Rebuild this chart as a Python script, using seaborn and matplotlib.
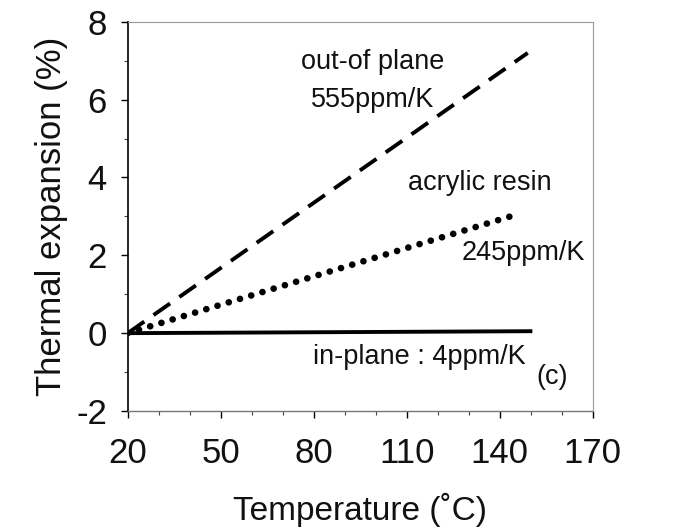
"""
Thermal expansion vs temperature, three directions/materials
"""

import matplotlib.pyplot as plt
from matplotlib.ticker import MultipleLocator
import seaborn as sns
import pandas as pd

# data (straight lines, endpoints)
out_of_plane_temp = [20, 149]
out_of_plane_exp = [0.0, 7.2]
acrylic_temp = [20, 145.5]
acrylic_exp = [0.0, 3.05]
in_plane_temp = [20, 150.5]
in_plane_exp = [0.0, 0.05]

x_ticks = [20, 50, 80, 110, 140, 170]
y_ticks = [-2, 0, 2, 4, 6, 8]

sns.set_style("ticks")
plt.rcParams['font.family'] = ['Liberation Sans', 'DejaVu Sans']
plt.rcParams['axes.unicode_minus'] = False

fig = plt.figure(figsize=(6.83, 5.31), dpi=100)
ax = fig.add_axes([0.187, 0.226, 0.681, 0.733])

df_out = pd.DataFrame({'T': out_of_plane_temp, 'E': out_of_plane_exp})
df_acr = pd.DataFrame({'T': acrylic_temp, 'E': acrylic_exp})
df_in = pd.DataFrame({'T': in_plane_temp, 'E': in_plane_exp})

sns.lineplot(data=df_in, x='T', y='E', ax=ax, color='black', linewidth=2.8,
             solid_capstyle='butt')
sns.lineplot(data=df_out, x='T', y='E', ax=ax, color='black', linewidth=2.8,
             dashes=False, linestyle=(0, (5.2, 2.9)))
sns.lineplot(data=df_acr, x='T', y='E', ax=ax, color='black', linewidth=4.8,
             linestyle=(0, (0.01, 1.75)), dash_capstyle='round')

ax.set_xlim(20, 170)
ax.set_ylim(-2, 8)
ax.set_xticks(x_ticks)
ax.set_yticks(y_ticks)
ax.xaxis.set_minor_locator(MultipleLocator(10))
ax.yaxis.set_minor_locator(MultipleLocator(1))
ax.tick_params(axis='both', which='major', labelsize=25, length=5, width=1,
               color='black', labelcolor='#111111')
ax.tick_params(axis='x', which='major', pad=14)
ax.tick_params(axis='y', which='major', pad=10)
ax.tick_params(axis='both', which='minor', length=3, width=0.8, color='#444444')

for side in ['top', 'right']:
    ax.spines[side].set_visible(True)
    ax.spines[side].set_color('#999999')
    ax.spines[side].set_linewidth(0.8)
ax.spines['left'].set_color('black')
ax.spines['left'].set_linewidth(1.2)
ax.spines['bottom'].set_color('#777777')
ax.spines['bottom'].set_linewidth(1.0)
ax.spines['bottom'].set_linestyle((0, (1.5, 1)))

ax.set_xlabel('Temperature (˚C)', fontsize=24, labelpad=16, color='#111111')
ax.set_ylabel('Thermal expansion (%)', fontsize=25, labelpad=6, color='#111111')

note = dict(fontsize=19.5, ha='center', va='center', color='#111111')
ax.text(99, 6.97, 'out-of plane', **note)
ax.text(99, 6.0, '555ppm/K', **note)
ax.text(133.5, 3.86, 'acrylic resin', **note)
ax.text(147.5, 2.06, '245ppm/K', **note)
ax.text(114, -0.62, 'in-plane : 4ppm/K', **note)
ax.text(157, -1.13, '(c)', **note)

plt.savefig('out.png', dpi=100)
plt.close()
